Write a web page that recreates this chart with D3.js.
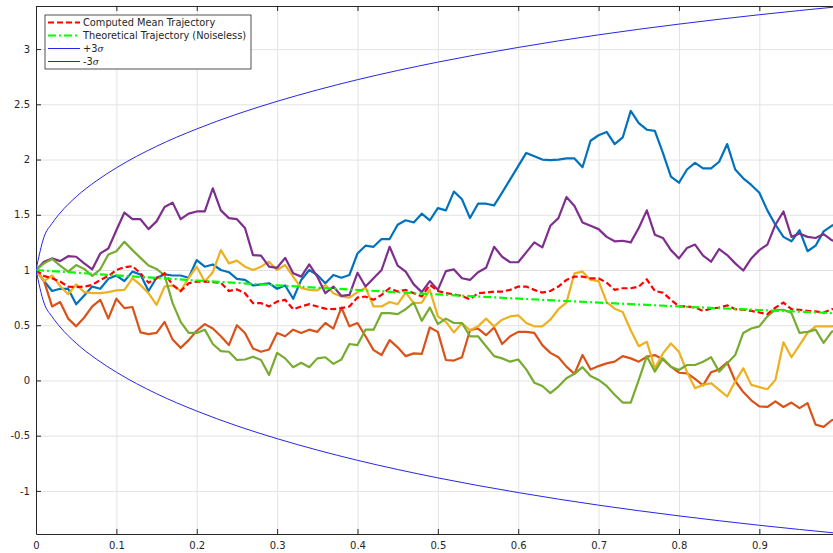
<!DOCTYPE html>
<html>
<head>
<meta charset="utf-8">
<script src="https://cdnjs.cloudflare.com/ajax/libs/d3/7.8.5/d3.min.js"></script>
<style>
  body { margin: 0; background: #fff; }
  text { font-family: "DejaVu Sans", sans-serif; fill: #262626; }
</style>
</head>
<body>
<div id="container"></div>
<script>
let width = 833;
let height = 553;
let timeStep = 0.01;

// five simulated paths, one value every 0.01 from t=0 to t=1
let blueTraj = [1.00,0.90,0.81,0.83,0.83,0.69,0.77,0.85,0.83,0.92,
  0.95,0.90,0.985,0.96,0.81,0.93,0.96,0.95,0.95,0.93,
  1.09,1.03,1.05,1.00,0.98,0.92,0.91,0.86,0.87,0.88,
  0.83,0.86,0.74,0.91,1.00,0.955,0.88,0.955,0.93,0.955,
  1.15,1.22,1.21,1.28,1.28,1.41,1.45,1.43,1.51,1.45,
  1.56,1.54,1.71,1.64,1.47,1.60,1.60,1.585,1.70,1.82,
  1.94,2.06,2.03,2.00,1.995,2.00,2.01,2.01,1.93,2.17,
  2.22,2.25,2.14,2.20,2.44,2.33,2.27,2.26,2.06,1.845,
  1.79,1.91,1.97,1.92,1.92,1.98,2.14,1.91,1.83,1.77,
  1.70,1.54,1.41,1.30,1.26,1.36,1.17,1.22,1.35,1.40,
  1.43];
let orangeTraj = [1.00,0.90,0.67,0.71,0.56,0.49,0.57,0.67,0.73,0.56,
  0.74,0.655,0.665,0.435,0.42,0.43,0.53,0.37,0.295,0.365,
  0.45,0.51,0.47,0.40,0.32,0.50,0.43,0.29,0.26,0.28,
  0.43,0.40,0.46,0.43,0.46,0.44,0.52,0.47,0.66,0.49,
  0.52,0.40,0.275,0.23,0.365,0.30,0.22,0.245,0.24,0.48,
  0.44,0.185,0.18,0.21,0.455,0.47,0.41,0.48,0.33,0.40,
  0.44,0.44,0.43,0.32,0.25,0.21,0.125,0.06,0.23,0.10,
  0.13,0.155,0.17,0.22,0.20,0.17,0.215,0.23,0.19,0.125,
  0.07,0.065,0.015,-0.045,0.075,0.10,0.165,-0.005,-0.105,-0.18,
  -0.235,-0.24,-0.19,-0.24,-0.20,-0.25,-0.205,-0.40,-0.42,-0.36,
  -0.34];
let yellowTraj = [1.00,0.90,0.95,0.855,0.78,0.87,0.80,0.79,0.79,0.80,
  0.815,0.82,0.925,0.865,0.79,0.685,0.85,0.86,0.81,0.93,
  1.03,0.895,0.98,1.18,1.06,1.085,1.03,1.00,1.03,1.075,
  1.00,1.045,0.94,0.835,0.82,0.815,0.865,0.79,0.76,0.75,
  0.80,0.84,0.67,0.67,0.71,0.69,0.795,0.70,0.705,0.82,
  0.58,0.53,0.435,0.52,0.455,0.49,0.56,0.49,0.55,0.58,
  0.59,0.52,0.49,0.49,0.55,0.645,0.705,0.97,0.985,0.91,
  0.90,0.71,0.65,0.62,0.455,0.31,0.35,0.11,0.245,0.335,
  0.26,0.075,-0.07,-0.04,-0.025,-0.085,-0.145,-0.01,0.11,-0.04,
  -0.06,-0.08,0.005,0.345,0.21,0.32,0.43,0.49,0.49,0.49,
  0.50];
let purpleTraj = [1.00,1.075,1.105,1.08,1.125,1.12,1.06,1.006,1.15,1.195,
  1.36,1.52,1.46,1.46,1.37,1.44,1.57,1.61,1.46,1.51,
  1.53,1.53,1.74,1.54,1.47,1.46,1.38,1.135,1.13,1.03,
  1.02,1.11,0.97,0.94,1.05,0.94,0.79,0.85,0.765,0.775,
  0.975,0.85,0.925,1.00,1.21,1.04,0.985,0.87,0.80,0.90,
  0.82,0.99,1.005,0.925,0.91,0.98,1.02,1.21,1.12,1.07,
  1.07,1.16,1.25,1.205,1.40,1.47,1.66,1.58,1.43,1.40,
  1.37,1.30,1.26,1.265,1.25,1.38,1.54,1.32,1.29,1.18,
  1.105,1.20,1.23,1.13,1.075,1.19,1.135,1.06,0.995,1.105,
  1.18,1.23,1.41,1.53,1.30,1.33,1.30,1.29,1.325,1.27,
  1.25];
let greenTraj = [1.00,1.06,1.10,1.04,0.985,1.045,1.01,0.946,1.006,1.14,
  1.17,1.255,1.18,1.11,1.04,1.01,0.95,0.70,0.53,0.43,
  0.43,0.46,0.33,0.265,0.26,0.185,0.19,0.215,0.185,0.05,
  0.25,0.20,0.12,0.16,0.12,0.20,0.21,0.15,0.19,0.33,
  0.32,0.46,0.46,0.61,0.61,0.60,0.645,0.705,0.54,0.66,
  0.51,0.56,0.52,0.52,0.40,0.40,0.31,0.22,0.20,0.17,
  0.19,0.10,-0.02,-0.05,-0.115,-0.055,0.02,0.06,0.12,0.04,
  0.005,-0.05,-0.13,-0.20,-0.20,0.005,0.22,0.08,0.20,0.125,
  0.095,0.14,0.14,0.17,0.21,0.08,0.155,0.23,0.43,0.47,
  0.49,0.58,0.64,0.64,0.61,0.43,0.44,0.46,0.34,0.44,
  0.47];

// red dashed line
let meanTraj = [1.00,0.945,0.925,0.895,0.85,0.845,0.85,0.865,0.91,0.945,
  1.00,1.025,1.035,0.97,0.885,0.925,0.97,0.865,0.81,0.88,
  0.895,0.895,0.89,0.885,0.81,0.825,0.79,0.70,0.70,0.67,
  0.715,0.73,0.645,0.67,0.69,0.67,0.65,0.645,0.655,0.67,
  0.75,0.76,0.73,0.775,0.835,0.805,0.82,0.79,0.76,0.865,
  0.81,0.79,0.78,0.765,0.735,0.79,0.795,0.805,0.805,0.82,
  0.85,0.85,0.82,0.795,0.81,0.85,0.91,0.94,0.94,0.925,
  0.925,0.885,0.82,0.835,0.835,0.85,0.915,0.81,0.795,0.73,
  0.67,0.67,0.66,0.63,0.65,0.66,0.68,0.645,0.64,0.63,
  0.615,0.60,0.66,0.705,0.645,0.64,0.63,0.625,0.615,0.645,
  0.65];

// green dash-dot line
let theoryTimes = [0, 0.1, 0.2, 0.3, 0.4, 0.5, 0.6, 0.7, 0.8, 0.9, 1.0];
let theoryValues = [1, 0.951, 0.905, 0.861, 0.819, 0.779, 0.741, 0.705, 0.670, 0.638, 0.607];

// the two thin blue envelope curves
let sigmaTimes = [0, 0.01, 0.02, 0.03, 0.05, 0.075, 0.1, 0.15, 0.2, 0.25, 0.3, 0.35, 0.4, 0.45, 0.5, 0.6, 0.7, 0.8, 0.9, 1.0];
let sigmaUpper = [1, 1.299, 1.422, 1.516, 1.663, 1.806, 1.925, 2.120, 2.277, 2.411, 2.527, 2.630, 2.723, 2.806, 2.882, 3.015, 3.129, 3.226, 3.311, 3.385];
let sigmaLower = [1, 0.701, 0.578, 0.484, 0.337, 0.194, 0.075, -0.120, -0.277, -0.411, -0.527, -0.630, -0.723, -0.806, -0.882, -1.015, -1.129, -1.226, -1.311, -1.385];

// the tick at 1 sits just outside the window, so it is left out
let xTicks = [0, 0.1, 0.2, 0.3, 0.4, 0.5, 0.6, 0.7, 0.8, 0.9];
let yTicks = [-1, -0.5, 0, 0.5, 1, 1.5, 2, 2.5, 3];

let trajColors = ["#0072BD", "#D95319", "#EDB120", "#7E2F8E", "#77AC30"];
let trajectories = [blueTraj, orangeTraj, yellowTraj, purpleTraj, greenTraj];

// axes box, it runs a few px past the right edge of the window
let plotLeft = 36, plotRight = 839.7, plotTop = 6, plotBottom = 534;

let x = d3.scaleLinear().domain([0, 1]).range([plotLeft, plotRight]);
let y = d3.scaleLinear().domain([-1.39, 3.39]).range([plotBottom, plotTop]);

let tickText = d => String(d);   // plain hyphen minus like matlab

let svg = d3.select("#container")
  .append("svg")
  .attr("width", width)
  .attr("height", height);

svg.append("defs").append("clipPath").attr("id", "plotClip")
  .append("rect")
  .attr("x", plotLeft).attr("y", plotTop)
  .attr("width", plotRight - plotLeft).attr("height", plotBottom - plotTop);

// grid
svg.append("g")
  .attr("transform", `translate(0,${plotBottom})`)
  .call(d3.axisBottom(x).tickValues(xTicks).tickSize(-(plotBottom - plotTop)).tickFormat(""))
  .call(g => g.select(".domain").remove())
  .call(g => g.selectAll("line").attr("stroke", "#e3e3e3"));
svg.append("g")
  .attr("transform", `translate(${plotLeft},0)`)
  .call(d3.axisLeft(y).tickValues(yTicks).tickSize(-(plotRight - plotLeft)).tickFormat(""))
  .call(g => g.select(".domain").remove())
  .call(g => g.selectAll("line").attr("stroke", "#e3e3e3"));

// axes with inward ticks, matlab style
function styleAxis(g) {
  g.select(".domain").attr("stroke", "#262626");
  g.selectAll(".tick line").attr("stroke", "#262626");
  g.selectAll("text").style("font-size", "10px").attr("fill", "#262626");
}

svg.append("g")
  .attr("transform", `translate(0,${plotBottom})`)
  .call(d3.axisBottom(x).tickValues(xTicks).tickSizeInner(-5).tickSizeOuter(0).tickPadding(8)
    .tickFormat(tickText))
  .call(styleAxis);
svg.append("g")
  .attr("transform", `translate(0,${plotTop})`)
  .call(d3.axisTop(x).tickValues(xTicks).tickSizeInner(-5).tickSizeOuter(0).tickFormat(""))
  .call(styleAxis);
svg.append("g")
  .attr("transform", `translate(${plotLeft},0)`)
  .call(d3.axisLeft(y).tickValues(yTicks).tickSizeInner(-5).tickSizeOuter(0).tickPadding(6)
    .tickFormat(tickText))
  .call(styleAxis);

let plot = svg.append("g").attr("clip-path", "url(#plotClip)");

let stepLine = d3.line()
  .x((d, i) => x(i * timeStep))
  .y(d => y(d));

plot.selectAll(".traj")
  .data(trajectories)
  .enter().append("path")
  .attr("class", "traj")
  .attr("d", d => stepLine(d))
  .attr("fill", "none")
  .attr("stroke", (d, i) => trajColors[i])
  .attr("stroke-width", 2.2)
  .attr("stroke-linejoin", "round");

plot.append("path")
  .attr("d", stepLine(meanTraj))
  .attr("fill", "none")
  .attr("stroke", "#ff0000")
  .attr("stroke-width", 2.2)
  .attr("stroke-dasharray", "6,3");

let theoryLine = d3.line()
  .x((d, i) => x(theoryTimes[i]))
  .y(d => y(d));

plot.append("path")
  .attr("d", theoryLine(theoryValues))
  .attr("fill", "none")
  .attr("stroke", "#00ff00")
  .attr("stroke-width", 2.2)
  .attr("stroke-dasharray", "8,3,2,3");

let sigmaLine = d3.line()
  .x((d, i) => x(sigmaTimes[i]))
  .y(d => y(d))
  .curve(d3.curveMonotoneX);

[sigmaUpper, sigmaLower].forEach(function (s) {
  plot.append("path")
    .attr("d", sigmaLine(s))
    .attr("fill", "none")
    .attr("stroke", "#2626e6")
    .attr("stroke-width", 1);
});

// legend
let legendItems = [
  {label: "Computed Mean Trajectory", color: "#ff0000", dash: "6,3", w: 2.2},
  {label: "Theoretical Trajectory (Noiseless)", color: "#00ff00", dash: "8,3,2,3", w: 2.2},
  {label: "+3", sigma: true, color: "#2626e6", dash: null, w: 1},
  {label: "-3", sigma: true, color: "#2626e6", dash: null, w: 1}
];

let legend = svg.append("g");
legend.append("rect")
  .attr("x", 45).attr("y", 15)
  .attr("width", 206).attr("height", 54)
  .attr("fill", "#fff")
  .attr("stroke", "#262626")
  .attr("stroke-width", 0.8);

legendItems.forEach(function (item, i) {
  let ly = 22.5 + i * 13;
  legend.append("line")
    .attr("x1", 48).attr("x2", 80)
    .attr("y1", ly).attr("y2", ly)
    .attr("stroke", item.color)
    .attr("stroke-width", item.w)
    .attr("stroke-dasharray", item.dash);
  let t = legend.append("text")
    .attr("x", 83).attr("y", ly)
    .attr("dy", "0.35em")
    .style("font-size", "9.8px")
    .text(item.label);
  if (item.sigma) {
    t.append("tspan")
      .style("font-style", "italic")
      .style("font-family", "DejaVu Serif, serif")
      .style("font-size", "9px")
      .text("\u03c3");
  }
});
</script>
</body>
</html>
